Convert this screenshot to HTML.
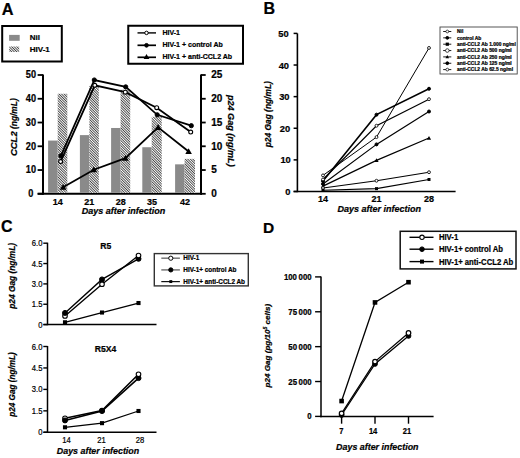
<!DOCTYPE html><html><head><meta charset="utf-8"><style>
html,body{margin:0;padding:0;background:#fff;width:520px;height:458px;overflow:hidden}
svg{display:block;font-family:"Liberation Sans", sans-serif}
text{stroke:#000;stroke-width:0.22px;fill:#000}
</style></head><body>
<svg width="520" height="458" viewBox="0 0 520 458">
<defs>
<pattern id="hatch" patternUnits="userSpaceOnUse" width="1.8" height="1.8" patternTransform="rotate(-45)">
<rect width="1.8" height="1.8" fill="#fff"/><rect width="0.72" height="1.8" fill="#1a1a1a"/>
</pattern>
</defs>
<rect width="520" height="458" fill="#fff"/>
<text x="1.8" y="14.5" font-size="16.3" font-weight="bold" font-style="normal" text-anchor="start" >A</text>
<rect x="2.2" y="26" width="59.6" height="35.5" fill="none" stroke="#000" stroke-width="2"/>
<rect x="9.1" y="34.9" width="10.6" height="5.9" fill="#8a8a8a" stroke="none" stroke-width="0"/>
<rect x="9.2" y="46.5" width="10" height="5.5" fill="url(#hatch)" stroke="none" stroke-width="0"/>
<text x="29.8" y="39.8" font-size="8" font-weight="bold" font-style="normal" text-anchor="start" >Nil</text>
<text x="29.8" y="51.8" font-size="8" font-weight="bold" font-style="normal" text-anchor="start" >HIV-1</text>
<rect x="128.25" y="25.75" width="114.75" height="38" fill="none" stroke="#000" stroke-width="2"/>
<line x1="137.5" y1="32.9" x2="156" y2="32.9" stroke="#000" stroke-width="1.4"/>
<circle cx="146.5" cy="32.9" r="1.75" fill="#fff" stroke="#000" stroke-width="1.0"/>
<text x="162.5" y="34.5" font-size="7" font-weight="bold" font-style="normal" text-anchor="start" >HIV-1</text>
<line x1="137.5" y1="45.3" x2="156" y2="45.3" stroke="#000" stroke-width="1.7"/>
<circle cx="146.5" cy="45.3" r="1.85" fill="#000" stroke="#000" stroke-width="1"/>
<text x="162.5" y="46.9" font-size="7" font-weight="bold" font-style="normal" text-anchor="start" >HIV-1 + control Ab</text>
<line x1="137.5" y1="57.3" x2="156" y2="57.3" stroke="#000" stroke-width="1.7"/>
<polygon points="146.5,54.019999999999996 149.38,59.06 143.62,59.06" fill="#000"/>
<text x="162.5" y="58.9" font-size="7" font-weight="bold" font-style="normal" text-anchor="start" >HIV-1 + anti-CCL2 Ab</text>
<line x1="43" y1="74.5" x2="43" y2="194.8" stroke="#000" stroke-width="2"/>
<line x1="201" y1="74.5" x2="201" y2="194.8" stroke="#000" stroke-width="2"/>
<line x1="37.7" y1="193.8" x2="202" y2="193.8" stroke="#000" stroke-width="2"/>
<line x1="37.6" y1="193.8" x2="43" y2="193.8" stroke="#000" stroke-width="1.8"/>
<text x="0" y="0" font-size="10" font-weight="bold" font-style="normal" text-anchor="middle" transform="translate(30.9,197.20) scale(0.92,1)">0</text>
<line x1="37.6" y1="170.04000000000002" x2="43" y2="170.04000000000002" stroke="#000" stroke-width="1.8"/>
<text x="0" y="0" font-size="10" font-weight="bold" font-style="normal" text-anchor="middle" transform="translate(30.9,173.44) scale(0.92,1)">10</text>
<line x1="37.6" y1="146.28000000000003" x2="43" y2="146.28000000000003" stroke="#000" stroke-width="1.8"/>
<text x="0" y="0" font-size="10" font-weight="bold" font-style="normal" text-anchor="middle" transform="translate(30.9,149.68) scale(0.92,1)">20</text>
<line x1="37.6" y1="122.52000000000001" x2="43" y2="122.52000000000001" stroke="#000" stroke-width="1.8"/>
<text x="0" y="0" font-size="10" font-weight="bold" font-style="normal" text-anchor="middle" transform="translate(30.9,125.92) scale(0.92,1)">30</text>
<line x1="37.6" y1="98.76000000000002" x2="43" y2="98.76000000000002" stroke="#000" stroke-width="1.8"/>
<text x="0" y="0" font-size="10" font-weight="bold" font-style="normal" text-anchor="middle" transform="translate(30.9,102.16) scale(0.92,1)">40</text>
<line x1="37.6" y1="75.00000000000001" x2="43" y2="75.00000000000001" stroke="#000" stroke-width="1.8"/>
<text x="0" y="0" font-size="10" font-weight="bold" font-style="normal" text-anchor="middle" transform="translate(30.9,78.40) scale(0.92,1)">50</text>
<line x1="201" y1="193.8" x2="205.7" y2="193.8" stroke="#000" stroke-width="1.8"/>
<text x="211.2" y="197.20000000000002" font-size="10" font-weight="bold" font-style="normal" text-anchor="start" >0</text>
<line x1="201" y1="170.04000000000002" x2="205.7" y2="170.04000000000002" stroke="#000" stroke-width="1.8"/>
<text x="211.2" y="173.44000000000003" font-size="10" font-weight="bold" font-style="normal" text-anchor="start" >5</text>
<line x1="201" y1="146.28000000000003" x2="205.7" y2="146.28000000000003" stroke="#000" stroke-width="1.8"/>
<text x="211.2" y="149.68000000000004" font-size="10" font-weight="bold" font-style="normal" text-anchor="start" >10</text>
<line x1="201" y1="122.52000000000001" x2="205.7" y2="122.52000000000001" stroke="#000" stroke-width="1.8"/>
<text x="211.2" y="125.92000000000002" font-size="10" font-weight="bold" font-style="normal" text-anchor="start" >15</text>
<line x1="201" y1="98.76000000000002" x2="205.7" y2="98.76000000000002" stroke="#000" stroke-width="1.8"/>
<text x="211.2" y="102.16000000000003" font-size="10" font-weight="bold" font-style="normal" text-anchor="start" >20</text>
<line x1="201" y1="75.00000000000001" x2="205.7" y2="75.00000000000001" stroke="#000" stroke-width="1.8"/>
<text x="211.2" y="78.40000000000002" font-size="10" font-weight="bold" font-style="normal" text-anchor="start" >25</text>
<rect x="48.1" y="140.57760000000002" width="9.600000000000001" height="52.22239999999999" fill="#8a8a8a" stroke="none" stroke-width="0"/>
<rect x="57.7" y="93.77040000000001" width="9.599999999999994" height="99.0296" fill="url(#hatch)" stroke="none" stroke-width="0"/>
<rect x="79.9" y="135.11280000000002" width="9.5" height="57.68719999999999" fill="#8a8a8a" stroke="none" stroke-width="0"/>
<rect x="89.4" y="85.92960000000002" width="9.399999999999991" height="106.87039999999999" fill="url(#hatch)" stroke="none" stroke-width="0"/>
<rect x="111.1" y="127.98480000000002" width="9.5" height="64.81519999999999" fill="#8a8a8a" stroke="none" stroke-width="0"/>
<rect x="120.6" y="89.73120000000003" width="9.599999999999994" height="103.06879999999998" fill="url(#hatch)" stroke="none" stroke-width="0"/>
<rect x="142.3" y="147.2304" width="9.399999999999977" height="45.56960000000001" fill="#8a8a8a" stroke="none" stroke-width="0"/>
<rect x="151.7" y="116.81760000000001" width="10.0" height="75.9824" fill="url(#hatch)" stroke="none" stroke-width="0"/>
<rect x="175.1" y="164.3376" width="9.5" height="28.462400000000002" fill="#8a8a8a" stroke="none" stroke-width="0"/>
<rect x="184.6" y="158.8728" width="10.400000000000006" height="33.9272" fill="url(#hatch)" stroke="none" stroke-width="0"/>
<text x="57.7" y="205.2" font-size="9" font-weight="bold" font-style="normal" text-anchor="middle" >14</text>
<text x="89.35" y="205.2" font-size="9" font-weight="bold" font-style="normal" text-anchor="middle" >21</text>
<text x="120.64999999999999" y="205.2" font-size="9" font-weight="bold" font-style="normal" text-anchor="middle" >28</text>
<text x="152.0" y="205.2" font-size="9" font-weight="bold" font-style="normal" text-anchor="middle" >35</text>
<text x="185.05" y="205.2" font-size="9" font-weight="bold" font-style="normal" text-anchor="middle" >42</text>
<text x="123.5" y="213.6" font-size="9" font-weight="bold" font-style="italic" text-anchor="middle" >Days after infection</text>
<text x="0" y="0" font-size="8.4" font-weight="bold" font-style="italic" text-anchor="middle" transform="translate(17.3,127.2) rotate(-90)"><tspan font-size="9.5">CCL2</tspan> (ng/mL)</text>
<text x="0" y="0" font-size="9.1" font-weight="bold" font-style="italic" text-anchor="middle" transform="translate(227.6,130.8) rotate(90)">p24 Gag (ng/mL)</text>
<polyline points="60.6,161.6 94.8,85.3 125.3,92.2 156.7,107.7 190.7,132.1" fill="none" stroke="#000" stroke-width="1.8" stroke-linejoin="miter"/>
<polyline points="60.9,155.9 94.3,80 125.7,86.9 157.2,114.8 191.3,125.7" fill="none" stroke="#000" stroke-width="1.8" stroke-linejoin="miter"/>
<polyline points="63.1,187.2 93.8,169.7 125.4,158.2 158.1,127.4 188.6,151.5" fill="none" stroke="#000" stroke-width="1.8" stroke-linejoin="miter"/>
<circle cx="60.6" cy="161.6" r="1.95" fill="#fff" stroke="#000" stroke-width="1.1"/>
<circle cx="94.8" cy="85.3" r="1.95" fill="#fff" stroke="#000" stroke-width="1.1"/>
<circle cx="125.3" cy="92.2" r="1.95" fill="#fff" stroke="#000" stroke-width="1.1"/>
<circle cx="156.7" cy="107.7" r="1.95" fill="#fff" stroke="#000" stroke-width="1.1"/>
<circle cx="190.7" cy="132.1" r="1.95" fill="#fff" stroke="#000" stroke-width="1.1"/>
<circle cx="60.9" cy="155.9" r="2.1" fill="#000" stroke="#000" stroke-width="1"/>
<circle cx="94.3" cy="80" r="2.1" fill="#000" stroke="#000" stroke-width="1"/>
<circle cx="125.7" cy="86.9" r="2.1" fill="#000" stroke="#000" stroke-width="1"/>
<circle cx="157.2" cy="114.8" r="2.1" fill="#000" stroke="#000" stroke-width="1"/>
<circle cx="191.3" cy="125.7" r="2.1" fill="#000" stroke="#000" stroke-width="1"/>
<polygon points="63.1,183.89999999999998 66.4,189.67499999999998 59.800000000000004,189.67499999999998" fill="#000"/>
<polygon points="93.8,166.39999999999998 97.1,172.17499999999998 90.5,172.17499999999998" fill="#000"/>
<polygon points="125.4,154.89999999999998 128.70000000000002,160.67499999999998 122.10000000000001,160.67499999999998" fill="#000"/>
<polygon points="158.1,124.10000000000001 161.4,129.875 154.79999999999998,129.875" fill="#000"/>
<polygon points="188.6,148.2 191.9,153.975 185.29999999999998,153.975" fill="#000"/>
<text x="263.5" y="13.6" font-size="16" font-weight="bold" font-style="normal" text-anchor="start" >B</text>
<line x1="297.4" y1="33.4" x2="297.4" y2="192.2" stroke="#000" stroke-width="1.6"/>
<line x1="293.6" y1="191.5" x2="455.6" y2="191.5" stroke="#000" stroke-width="1.6"/>
<line x1="293.6" y1="191.5" x2="297.4" y2="191.5" stroke="#000" stroke-width="1.5"/>
<text x="290.5" y="195.0" font-size="9.3" font-weight="bold" font-style="normal" text-anchor="end" >0</text>
<line x1="293.6" y1="159.88" x2="297.4" y2="159.88" stroke="#000" stroke-width="1.5"/>
<text x="290.8" y="163.38" font-size="9.3" font-weight="bold" font-style="normal" text-anchor="end" >10</text>
<line x1="293.6" y1="128.26" x2="297.4" y2="128.26" stroke="#000" stroke-width="1.5"/>
<text x="290.1" y="131.76" font-size="9.3" font-weight="bold" font-style="normal" text-anchor="end" >20</text>
<line x1="293.6" y1="96.64" x2="297.4" y2="96.64" stroke="#000" stroke-width="1.5"/>
<text x="289.5" y="100.14" font-size="9.3" font-weight="bold" font-style="normal" text-anchor="end" >30</text>
<line x1="293.6" y1="65.02000000000001" x2="297.4" y2="65.02000000000001" stroke="#000" stroke-width="1.5"/>
<text x="289" y="68.52000000000001" font-size="9.3" font-weight="bold" font-style="normal" text-anchor="end" >40</text>
<line x1="293.6" y1="33.400000000000006" x2="297.4" y2="33.400000000000006" stroke="#000" stroke-width="1.5"/>
<text x="288.6" y="36.900000000000006" font-size="9.3" font-weight="bold" font-style="normal" text-anchor="end" >50</text>
<text x="323" y="202.3" font-size="9" font-weight="bold" font-style="normal" text-anchor="middle" >14</text>
<text x="376.5" y="202.3" font-size="9" font-weight="bold" font-style="normal" text-anchor="middle" >21</text>
<text x="429" y="202.3" font-size="9" font-weight="bold" font-style="normal" text-anchor="middle" >28</text>
<text x="379.2" y="212.4" font-size="9" font-weight="bold" font-style="italic" text-anchor="middle" >Days after infection</text>
<text x="0" y="0" font-size="8.4" font-weight="bold" font-style="italic" text-anchor="middle" transform="translate(270.6,114.25) rotate(-90)">p24 Gag (ng/mL)</text>
<polyline points="323,175.37380000000002 376.5,137.11360000000002 429,47.9452" fill="none" stroke="#000" stroke-width="1.0" stroke-linejoin="miter"/>
<polyline points="323,181.0654 376.5,114.6634 429,88.735" fill="none" stroke="#000" stroke-width="1.55" stroke-linejoin="miter"/>
<polyline points="323,179.4844 376.5,125.7304 429,99.1696" fill="none" stroke="#000" stroke-width="1.2" stroke-linejoin="miter"/>
<polyline points="323,183.9112 376.5,144.3862 429,111.5014" fill="none" stroke="#000" stroke-width="1.2" stroke-linejoin="miter"/>
<polyline points="323,186.1246 376.5,160.3543 429,138.06220000000002" fill="none" stroke="#000" stroke-width="1.2" stroke-linejoin="miter"/>
<polyline points="323,188.0218 376.5,180.7492 429,172.2118" fill="none" stroke="#000" stroke-width="1.05" stroke-linejoin="miter"/>
<polyline points="323,190.2352 376.5,188.6542 429,179.4844" fill="none" stroke="#000" stroke-width="1.2" stroke-linejoin="miter"/>
<circle cx="323" cy="175.37380000000002" r="1.45" fill="#fff" stroke="#000" stroke-width="0.85"/>
<circle cx="376.5" cy="137.11360000000002" r="1.45" fill="#fff" stroke="#000" stroke-width="0.85"/>
<circle cx="429" cy="47.9452" r="1.45" fill="#fff" stroke="#000" stroke-width="0.85"/>
<circle cx="323" cy="181.0654" r="1.5" fill="#000" stroke="#000" stroke-width="1"/>
<circle cx="376.5" cy="114.6634" r="1.5" fill="#000" stroke="#000" stroke-width="1"/>
<circle cx="429" cy="88.735" r="1.5" fill="#000" stroke="#000" stroke-width="1"/>
<circle cx="323" cy="179.4844" r="1.45" fill="#fff" stroke="#000" stroke-width="0.85"/>
<circle cx="376.5" cy="125.7304" r="1.45" fill="#fff" stroke="#000" stroke-width="0.85"/>
<circle cx="429" cy="99.1696" r="1.45" fill="#fff" stroke="#000" stroke-width="0.85"/>
<circle cx="323" cy="183.9112" r="1.5" fill="#000" stroke="#000" stroke-width="1"/>
<circle cx="376.5" cy="144.3862" r="1.5" fill="#000" stroke="#000" stroke-width="1"/>
<circle cx="429" cy="111.5014" r="1.5" fill="#000" stroke="#000" stroke-width="1"/>
<polygon points="323,184.0246 325.1,187.69959999999998 320.9,187.69959999999998" fill="#000"/>
<polygon points="376.5,158.2543 378.6,161.92929999999998 374.4,161.92929999999998" fill="#000"/>
<polygon points="429,135.96220000000002 431.1,139.6372 426.9,139.6372" fill="#000"/>
<circle cx="323" cy="188.0218" r="1.45" fill="#fff" stroke="#000" stroke-width="0.85"/>
<circle cx="376.5" cy="180.7492" r="1.45" fill="#fff" stroke="#000" stroke-width="0.85"/>
<circle cx="429" cy="172.2118" r="1.45" fill="#fff" stroke="#000" stroke-width="0.85"/>
<rect x="321.5" y="188.7352" width="3" height="3" fill="#000"/>
<rect x="375.0" y="187.1542" width="3" height="3" fill="#000"/>
<rect x="427.5" y="177.9844" width="3" height="3" fill="#000"/>
<rect x="440" y="27" width="77.2" height="47" fill="none" stroke="#444" stroke-width="0.9"/>
<line x1="443.2" y1="31.5" x2="451.3" y2="31.5" stroke="#000" stroke-width="0.9"/>
<circle cx="447.3" cy="31.5" r="1.4" fill="#fff" stroke="#000" stroke-width="0.7"/>
<text x="457" y="33.3" font-size="4.9" font-weight="bold" font-style="normal" text-anchor="start" >Nil</text>
<line x1="443.2" y1="37.85" x2="451.3" y2="37.85" stroke="#000" stroke-width="0.9"/>
<circle cx="447.3" cy="37.85" r="1.4" fill="#000" stroke="#000" stroke-width="1"/>
<text x="457" y="39.65" font-size="4.9" font-weight="bold" font-style="normal" text-anchor="start" >control Ab</text>
<line x1="443.2" y1="44.2" x2="451.3" y2="44.2" stroke="#000" stroke-width="0.9"/>
<rect x="445.7" y="42.6" width="3.2" height="3.2" fill="#000"/>
<text x="457" y="46.0" font-size="4.9" font-weight="bold" font-style="normal" text-anchor="start" >anti-CCL2 Ab 1.000 ng/ml</text>
<line x1="443.2" y1="50.55" x2="451.3" y2="50.55" stroke="#000" stroke-width="0.9"/>
<circle cx="447.3" cy="50.55" r="1.8" fill="#fff" stroke="#000" stroke-width="0.7"/>
<text x="457" y="52.349999999999994" font-size="4.9" font-weight="bold" font-style="normal" text-anchor="start" >anti-CCL2 Ab 500 ng/ml</text>
<line x1="443.2" y1="56.9" x2="451.3" y2="56.9" stroke="#000" stroke-width="0.9"/>
<polygon points="447.3,55.1 449.1,58.25 445.5,58.25" fill="#000"/>
<text x="457" y="58.699999999999996" font-size="4.9" font-weight="bold" font-style="normal" text-anchor="start" >anti-CCL2 Ab 250 ng/ml</text>
<line x1="443.2" y1="63.25" x2="451.3" y2="63.25" stroke="#000" stroke-width="0.9"/>
<circle cx="447.3" cy="63.25" r="1.4" fill="#000" stroke="#000" stroke-width="1"/>
<text x="457" y="65.05" font-size="4.9" font-weight="bold" font-style="normal" text-anchor="start" >anti-CCL2 Ab 125 ng/ml</text>
<line x1="443.2" y1="69.6" x2="451.3" y2="69.6" stroke="#000" stroke-width="0.9"/>
<circle cx="447.3" cy="69.6" r="1.4" fill="#fff" stroke="#000" stroke-width="0.7"/>
<text x="457" y="71.39999999999999" font-size="4.9" font-weight="bold" font-style="normal" text-anchor="start" >anti-CCL2 Ab 62.5 ng/ml</text>
<text x="1" y="231.8" font-size="16" font-weight="bold" font-style="normal" text-anchor="start" >C</text>
<line x1="47.5" y1="242.7" x2="47.5" y2="325.20000000000005" stroke="#000" stroke-width="1.5"/>
<line x1="43.5" y1="324.6" x2="156.5" y2="324.6" stroke="#000" stroke-width="1.5"/>
<line x1="43.3" y1="243.2" x2="47.5" y2="243.2" stroke="#000" stroke-width="1.4"/>
<text x="0" y="0" font-size="8.5" font-weight="normal" font-style="normal" text-anchor="end" transform="translate(42.4,246.20) scale(0.9,1)">6.0</text>
<line x1="43.3" y1="263.55" x2="47.5" y2="263.55" stroke="#000" stroke-width="1.4"/>
<text x="0" y="0" font-size="8.5" font-weight="normal" font-style="normal" text-anchor="end" transform="translate(42.4,266.55) scale(0.9,1)">4.5</text>
<line x1="43.3" y1="283.9" x2="47.5" y2="283.9" stroke="#000" stroke-width="1.4"/>
<text x="0" y="0" font-size="8.5" font-weight="normal" font-style="normal" text-anchor="end" transform="translate(42.4,286.90) scale(0.9,1)">3.0</text>
<line x1="43.3" y1="304.25" x2="47.5" y2="304.25" stroke="#000" stroke-width="1.4"/>
<text x="0" y="0" font-size="8.5" font-weight="normal" font-style="normal" text-anchor="end" transform="translate(42.4,307.25) scale(0.9,1)">1.5</text>
<line x1="43.3" y1="324.6" x2="47.5" y2="324.6" stroke="#000" stroke-width="1.4"/>
<text x="0" y="0" font-size="8.5" font-weight="normal" font-style="normal" text-anchor="end" transform="translate(42.4,327.60) scale(0.9,1)">0</text>
<text x="105.8" y="248.6" font-size="8.6" font-weight="bold" font-style="normal" text-anchor="middle" >R5</text>
<polyline points="65,312.9326666666667 102,279.423 138.5,258.8016666666667" fill="none" stroke="#000" stroke-width="1.35" stroke-linejoin="miter"/>
<polyline points="65,315.9173333333334 102,284.17133333333334 138.5,255.54566666666665" fill="none" stroke="#000" stroke-width="1.35" stroke-linejoin="miter"/>
<polyline points="65,322.2936666666667 102,312.52566666666667 138.5,303.029" fill="none" stroke="#000" stroke-width="1.3" stroke-linejoin="miter"/>
<rect x="62.95" y="320.2436666666667" width="4.1" height="4.1" fill="#000"/>
<circle cx="65" cy="315.9173333333334" r="2.3" fill="#fff" stroke="#000" stroke-width="1.1"/>
<circle cx="65" cy="312.9326666666667" r="2.5" fill="#000" stroke="#000" stroke-width="1"/>
<rect x="99.95" y="310.47566666666665" width="4.1" height="4.1" fill="#000"/>
<circle cx="102" cy="284.17133333333334" r="2.3" fill="#fff" stroke="#000" stroke-width="1.1"/>
<circle cx="102" cy="279.423" r="2.5" fill="#000" stroke="#000" stroke-width="1"/>
<rect x="136.45" y="300.979" width="4.1" height="4.1" fill="#000"/>
<circle cx="138.5" cy="258.8016666666667" r="2.5" fill="#000" stroke="#000" stroke-width="1"/>
<circle cx="138.5" cy="255.54566666666665" r="2.3" fill="#fff" stroke="#000" stroke-width="1.1"/>
<line x1="47.5" y1="346.0" x2="47.5" y2="432.90000000000003" stroke="#000" stroke-width="1.5"/>
<line x1="43.5" y1="432.3" x2="156.5" y2="432.3" stroke="#000" stroke-width="1.5"/>
<line x1="43.3" y1="346.5" x2="47.5" y2="346.5" stroke="#000" stroke-width="1.4"/>
<text x="0" y="0" font-size="8.5" font-weight="normal" font-style="normal" text-anchor="end" transform="translate(42.4,349.50) scale(0.9,1)">6.0</text>
<line x1="43.3" y1="367.95" x2="47.5" y2="367.95" stroke="#000" stroke-width="1.4"/>
<text x="0" y="0" font-size="8.5" font-weight="normal" font-style="normal" text-anchor="end" transform="translate(42.4,370.95) scale(0.9,1)">4.5</text>
<line x1="43.3" y1="389.4" x2="47.5" y2="389.4" stroke="#000" stroke-width="1.4"/>
<text x="0" y="0" font-size="8.5" font-weight="normal" font-style="normal" text-anchor="end" transform="translate(42.4,392.40) scale(0.9,1)">3.0</text>
<line x1="43.3" y1="410.85" x2="47.5" y2="410.85" stroke="#000" stroke-width="1.4"/>
<text x="0" y="0" font-size="8.5" font-weight="normal" font-style="normal" text-anchor="end" transform="translate(42.4,413.85) scale(0.9,1)">1.5</text>
<line x1="43.3" y1="432.3" x2="47.5" y2="432.3" stroke="#000" stroke-width="1.4"/>
<text x="0" y="0" font-size="8.5" font-weight="normal" font-style="normal" text-anchor="end" transform="translate(42.4,435.30) scale(0.9,1)">0</text>
<text x="105.6" y="352" font-size="8.6" font-weight="bold" font-style="normal" text-anchor="middle" >R5X4</text>
<polyline points="65,420.431 102,410.993 138.5,378.103" fill="none" stroke="#000" stroke-width="1.6" stroke-linejoin="miter"/>
<polyline points="65,418.286 102,410.564 138.5,374.242" fill="none" stroke="#000" stroke-width="1.6" stroke-linejoin="miter"/>
<polyline points="65,427.295 102,423.148 138.5,410.993" fill="none" stroke="#000" stroke-width="1.3" stroke-linejoin="miter"/>
<rect x="62.95" y="425.245" width="4.1" height="4.1" fill="#000"/>
<circle cx="65" cy="418.286" r="2.3" fill="#fff" stroke="#000" stroke-width="1.1"/>
<circle cx="65" cy="420.431" r="2.5" fill="#000" stroke="#000" stroke-width="1"/>
<rect x="99.95" y="421.098" width="4.1" height="4.1" fill="#000"/>
<circle cx="102" cy="410.564" r="2.3" fill="#fff" stroke="#000" stroke-width="1.1"/>
<circle cx="102" cy="410.993" r="2.5" fill="#000" stroke="#000" stroke-width="1"/>
<rect x="136.45" y="408.943" width="4.1" height="4.1" fill="#000"/>
<circle cx="138.5" cy="378.103" r="2.5" fill="#000" stroke="#000" stroke-width="1"/>
<circle cx="138.5" cy="374.242" r="2.3" fill="#fff" stroke="#000" stroke-width="1.1"/>
<text x="0" y="0" font-size="8.3" font-weight="normal" font-style="normal" text-anchor="middle" transform="translate(66.4,443.0) scale(0.92,1)">14</text>
<text x="0" y="0" font-size="8.3" font-weight="normal" font-style="normal" text-anchor="middle" transform="translate(101.5,443.0) scale(0.92,1)">21</text>
<text x="0" y="0" font-size="8.3" font-weight="normal" font-style="normal" text-anchor="middle" transform="translate(140,443.0) scale(0.92,1)">28</text>
<text x="98" y="453.8" font-size="8.9" font-weight="bold" font-style="italic" text-anchor="middle" >Days after infection</text>
<text x="0" y="0" font-size="8.35" font-weight="bold" font-style="italic" text-anchor="middle" transform="translate(15.4,275.9) rotate(-90)">p24 Gag (ng/mL)</text>
<text x="0" y="0" font-size="8.2" font-weight="bold" font-style="italic" text-anchor="middle" transform="translate(15.4,384.5) rotate(-90)">p24 Gag (ng/mL)</text>
<rect x="154.3" y="253.6" width="94" height="32.3" fill="none" stroke="#333" stroke-width="1.4"/>
<line x1="161.3" y1="258.2" x2="179.9" y2="258.2" stroke="#777" stroke-width="1.5"/>
<circle cx="170.8" cy="258.2" r="2.1" fill="#fff" stroke="#000" stroke-width="1"/>
<text x="183.3" y="260.4" font-size="6.4" font-weight="bold" font-style="normal" text-anchor="start" >HIV-1</text>
<line x1="161.3" y1="269.9" x2="179.9" y2="269.9" stroke="#777" stroke-width="1.5"/>
<circle cx="170.8" cy="269.9" r="2.1" fill="#000" stroke="#000" stroke-width="1"/>
<text x="183.3" y="272.09999999999997" font-size="6.4" font-weight="bold" font-style="normal" text-anchor="start" >HIV-1+ control Ab</text>
<line x1="161.3" y1="281.59999999999997" x2="179.9" y2="281.59999999999997" stroke="#111" stroke-width="1.2"/>
<rect x="169.35000000000002" y="280.15" width="2.9" height="2.9" fill="#000"/>
<text x="183.3" y="283.79999999999995" font-size="6.4" font-weight="bold" font-style="normal" text-anchor="start" >HIV-1+ anti-CCL2 Ab</text>
<text x="263" y="233.3" font-size="15.5" font-weight="bold" font-style="normal" text-anchor="start" >D</text>
<line x1="321" y1="276.5" x2="321" y2="417.2" stroke="#000" stroke-width="1.5"/>
<line x1="320.3" y1="416.4" x2="433.6" y2="416.4" stroke="#000" stroke-width="1.5"/>
<line x1="315.1" y1="416.4" x2="321" y2="416.4" stroke="#000" stroke-width="1.4"/>
<text x="0" y="0" font-size="8.6" font-weight="bold" font-style="normal" text-anchor="end" transform="translate(311.6,419.40) scale(0.91,1)">0</text>
<line x1="315.1" y1="381.525" x2="321" y2="381.525" stroke="#000" stroke-width="1.4"/>
<text x="0" y="0" font-size="8.6" font-weight="bold" font-style="normal" text-anchor="end" transform="translate(311.6,384.52) scale(0.91,1)">25&#8201;000</text>
<line x1="315.1" y1="346.65" x2="321" y2="346.65" stroke="#000" stroke-width="1.4"/>
<text x="0" y="0" font-size="8.6" font-weight="bold" font-style="normal" text-anchor="end" transform="translate(311.6,349.65) scale(0.91,1)">50&#8201;000</text>
<line x1="315.1" y1="311.775" x2="321" y2="311.775" stroke="#000" stroke-width="1.4"/>
<text x="0" y="0" font-size="8.6" font-weight="bold" font-style="normal" text-anchor="end" transform="translate(311.6,314.77) scale(0.91,1)">75&#8201;000</text>
<line x1="315.1" y1="276.9" x2="321" y2="276.9" stroke="#000" stroke-width="1.4"/>
<text x="0" y="0" font-size="8.6" font-weight="bold" font-style="normal" text-anchor="end" transform="translate(311.6,279.90) scale(0.91,1)">100&#8201;000</text>
<line x1="341.6" y1="416.4" x2="341.6" y2="423.7" stroke="#000" stroke-width="1.4"/>
<text x="0" y="0" font-size="8.4" font-weight="bold" font-style="normal" text-anchor="middle" transform="translate(341.4,434.4) scale(0.9,1)">7</text>
<line x1="375" y1="416.4" x2="375" y2="423.7" stroke="#000" stroke-width="1.4"/>
<text x="0" y="0" font-size="8.4" font-weight="bold" font-style="normal" text-anchor="middle" transform="translate(373.1,434.4) scale(0.9,1)">14</text>
<line x1="408.5" y1="416.4" x2="408.5" y2="423.7" stroke="#000" stroke-width="1.4"/>
<text x="0" y="0" font-size="8.4" font-weight="bold" font-style="normal" text-anchor="middle" transform="translate(407,434.4) scale(0.9,1)">21</text>
<text x="377.3" y="449.6" font-size="8.9" font-weight="bold" font-style="italic" text-anchor="middle" >Days after infection</text>
<text x="0" y="0" font-size="8.1" font-weight="bold" font-style="italic" text-anchor="middle" transform="translate(270.2,345.6) rotate(-90)">p24 Gag (pg/10<tspan font-size="5" dy="-3">5</tspan><tspan dy="3"> cells)</tspan></text>
<polyline points="341.6,401.05499999999995 375,302.4285 408.5,282.201" fill="none" stroke="#000" stroke-width="1.3" stroke-linejoin="miter"/>
<polyline points="341.6,415.005 375,363.948 408.5,335.9085" fill="none" stroke="#000" stroke-width="1.25" stroke-linejoin="miter"/>
<polyline points="341.6,413.33099999999996 375,361.5765 408.5,332.979" fill="none" stroke="#000" stroke-width="1.25" stroke-linejoin="miter"/>
<rect x="339.3" y="398.75499999999994" width="4.6" height="4.6" fill="#000"/>
<rect x="372.7" y="300.1285" width="4.6" height="4.6" fill="#000"/>
<rect x="406.2" y="279.901" width="4.6" height="4.6" fill="#000"/>
<circle cx="341.6" cy="415.005" r="2.4" fill="#000" stroke="#000" stroke-width="1"/>
<circle cx="375" cy="363.948" r="2.4" fill="#000" stroke="#000" stroke-width="1"/>
<circle cx="408.5" cy="335.9085" r="2.4" fill="#000" stroke="#000" stroke-width="1"/>
<circle cx="341.6" cy="413.33099999999996" r="2.3" fill="#fff" stroke="#000" stroke-width="1.2"/>
<circle cx="375" cy="361.5765" r="2.3" fill="#fff" stroke="#000" stroke-width="1.2"/>
<circle cx="408.5" cy="332.979" r="2.3" fill="#fff" stroke="#000" stroke-width="1.2"/>
<rect x="400.2" y="231.3" width="115.8" height="37.6" fill="none" stroke="#111" stroke-width="1.5"/>
<line x1="409.5" y1="237.3" x2="433.5" y2="237.3" stroke="#000" stroke-width="1.4"/>
<circle cx="422" cy="237.3" r="2.2" fill="#fff" stroke="#000" stroke-width="1.1"/>
<text x="0" y="0" font-size="8.3" font-weight="bold" font-style="normal" text-anchor="start" transform="translate(438.9,240.20) scale(0.93,1)">HIV-1</text>
<line x1="409.5" y1="249.2" x2="433.5" y2="249.2" stroke="#000" stroke-width="1.4"/>
<circle cx="422" cy="249.2" r="2.3" fill="#000" stroke="#000" stroke-width="1"/>
<text x="0" y="0" font-size="8.3" font-weight="bold" font-style="normal" text-anchor="start" transform="translate(438.9,252.10) scale(0.93,1)">HIV-1+ control Ab</text>
<line x1="409.5" y1="261.6" x2="433.5" y2="261.6" stroke="#000" stroke-width="1.4"/>
<rect x="420.0" y="259.6" width="4" height="4" fill="#000"/>
<text x="0" y="0" font-size="8.3" font-weight="bold" font-style="normal" text-anchor="start" transform="translate(438.9,264.50) scale(0.93,1)">HIV-1+ anti-CCL2 Ab</text>
</svg></body></html>
